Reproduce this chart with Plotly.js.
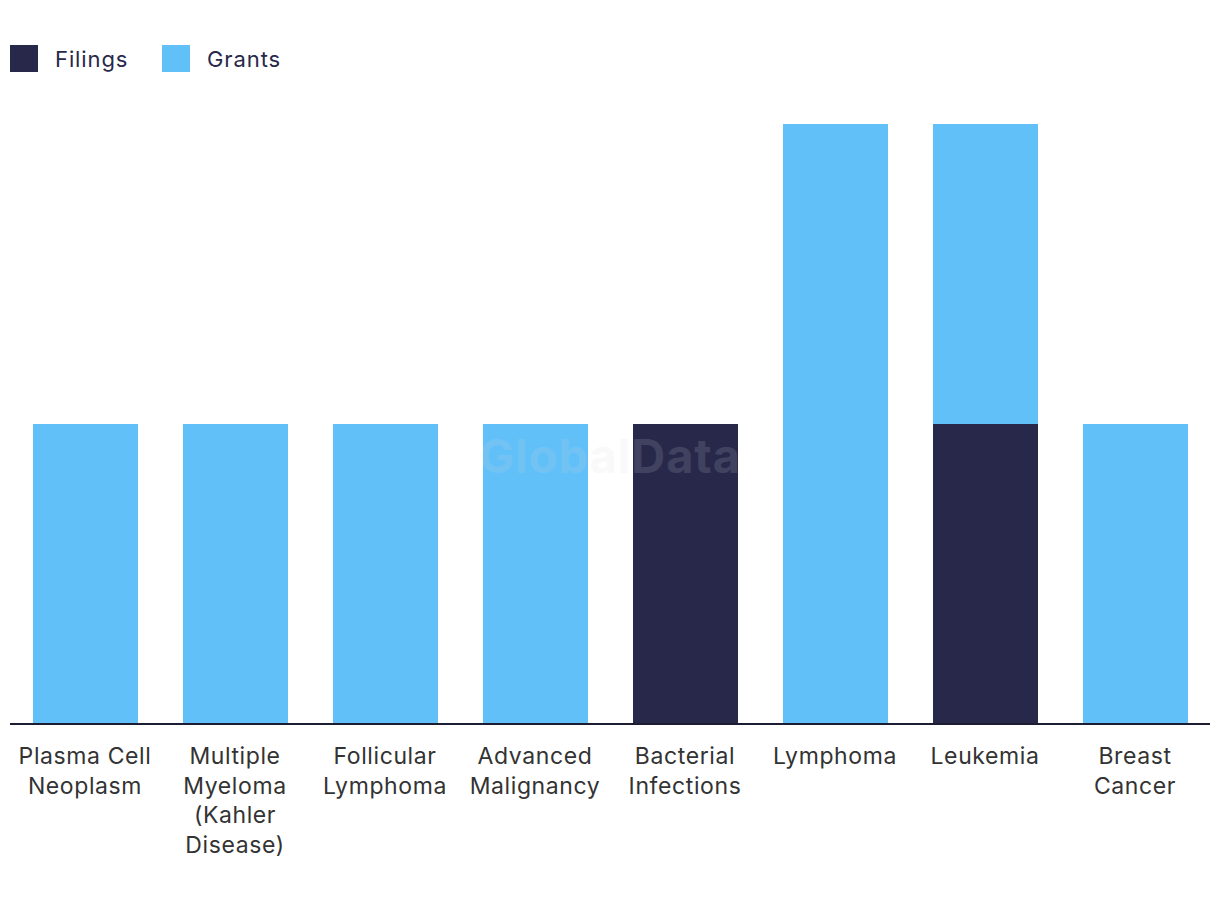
<!DOCTYPE html>
<html>
<head>
<meta charset="utf-8">
<script src="https://cdn.plot.ly/plotly-3.0.1.min.js"></script>
<style>
html,body{margin:0;padding:0;background:#fff;}
#chart{width:1220px;height:910px;}
.xtick text{letter-spacing:0.6px;}
.annotation-text{letter-spacing:0.9px;}
</style>
</head>
<body>
<div id="chart"></div>
<script>
const categories = [
  "Plasma Cell<br>Neoplasm",
  "Multiple<br>Myeloma<br>(Kahler<br>Disease)",
  "Follicular<br>Lymphoma",
  "Advanced<br>Malignancy",
  "Bacterial<br>Infections",
  "Lymphoma",
  "Leukemia",
  "Breast<br>Cancer"
];
const filings = [0, 0, 0, 0, 1, 0, 1, 0];
const grants  = [1, 1, 1, 1, 0, 2, 1, 1];
const seriesNames = ["Filings", "Grants"];
const seriesColors = ["#28284b", "#61c0f8"];

const traces = [
  {type: "bar", name: seriesNames[0], x: categories, y: filings, marker: {color: seriesColors[0]}, showlegend: false},
  {type: "bar", name: seriesNames[1], x: categories, y: grants, marker: {color: seriesColors[1]}, showlegend: false}
];

const legendX = [10, 162];
const shapes = [];
const annotations = [];
seriesNames.forEach((n, i) => {
  shapes.push({type: "rect", xref: "paper", yref: "paper", x0: (legendX[i]-10)/1200, x1: (legendX[i]+18)/1200, y0: 1 + (124-72)/599, y1: 1 + (124-45)/599, fillcolor: seriesColors[i], line: {width: 0}});
  annotations.push({xref: "paper", yref: "paper", x: (legendX[i]+33)/1200, y: 1 + (124-58.5)/599, xanchor: "left", yanchor: "middle", text: n, showarrow: false, font: {size: 22, color: "#28284b", family: "Inter, 'Noto Sans', sans-serif"}});
});
annotations.push({xref: "paper", yref: "paper", x: 0.5, y: 1 - (455-124)/599, xanchor: "center", yanchor: "middle", text: "<b>GlobalData</b>", showarrow: false, opacity: 0.14, font: {size: 47, color: "#d8d8e0", family: "Inter, 'Noto Sans', sans-serif"}});

const layout = {
  width: 1220, height: 910,
  margin: {l: 10, r: 10, t: 124, b: 187},
  paper_bgcolor: "#fff", plot_bgcolor: "#fff",
  barmode: "stack", bargap: 0.3,
  showlegend: false,
  xaxis: {showline: true, linecolor: "#1c1c33", linewidth: 2, ticks: "", showgrid: false, zeroline: false,
          ticklabelstandoff: 11,
          tickfont: {size: 23, color: "#333", family: "Inter, 'Noto Sans', sans-serif"}, fixedrange: true},
  yaxis: {range: [0, 2], visible: false, showgrid: false, zeroline: false, fixedrange: true},
  shapes: shapes,
  annotations: annotations
};
Plotly.newPlot("chart", traces, layout, {displayModeBar: false, staticPlot: true});
</script>
</body>
</html>
